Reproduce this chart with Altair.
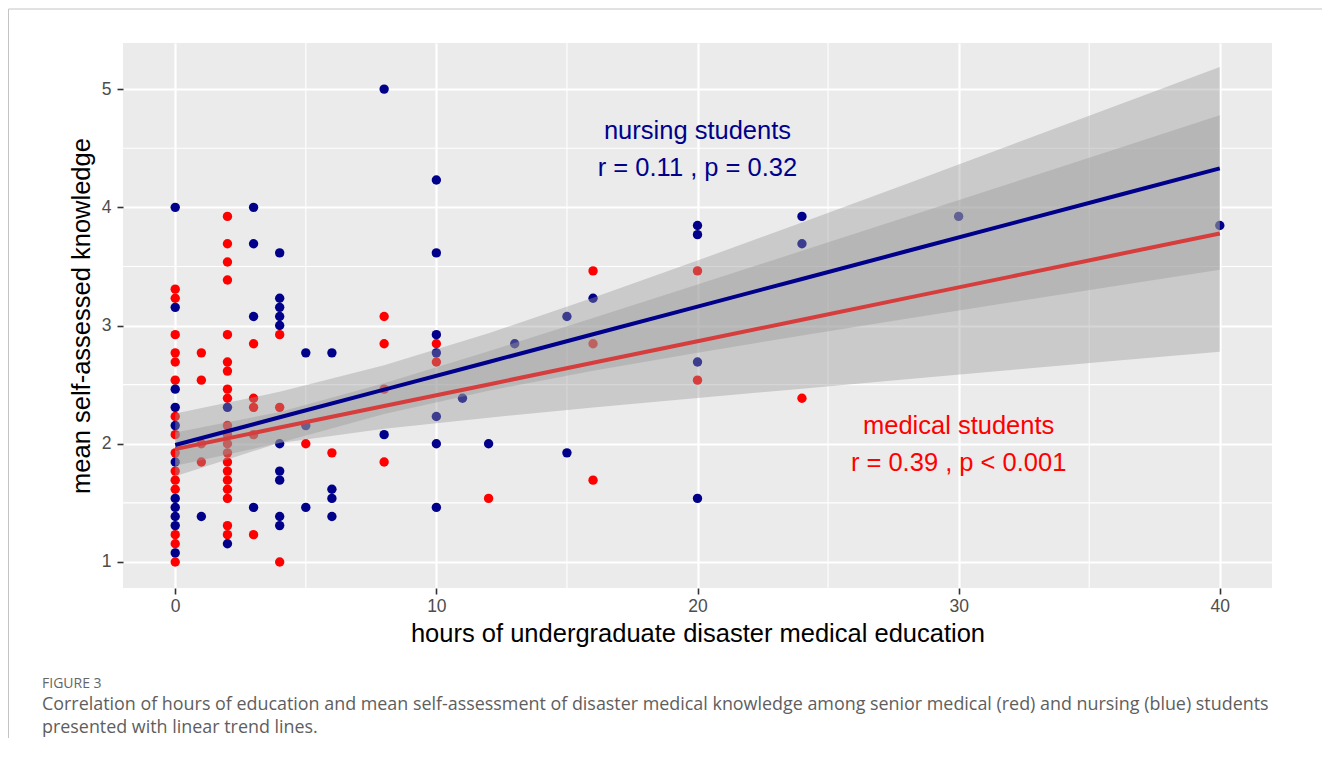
import altair as alt
import pandas as pd

# ---- data ----
med_hours = [0, 0, 0, 0, 0, 0, 0, 0, 0, 0, 0, 0, 0, 0, 0,
             1, 1, 1, 1,
             2, 2, 2, 2, 2, 2, 2, 2, 2, 2, 2, 2, 2, 2, 2, 2, 2, 2, 2, 2,
             3, 3, 3, 3, 3,
             4, 4, 4,
             5, 6,
             8, 8, 8, 8,
             10, 10, 12,
             16, 16, 16,
             20, 20, 24]
med_score = [1.0, 1.154, 1.231, 1.615, 1.692, 1.769, 1.923, 2.077, 2.231, 2.538, 2.692, 2.769, 2.923, 3.231, 3.308,
             2.769, 2.538, 2.0, 1.846,
             3.923, 3.692, 3.538, 3.385, 2.923, 2.692, 2.615, 2.462, 2.385, 2.154, 2.077, 2.0, 1.923, 1.846, 1.769, 1.692, 1.615, 1.538, 1.308, 1.231,
             2.846, 2.385, 2.308, 2.077, 1.231,
             2.923, 2.308, 1.0,
             2.0, 1.923,
             3.077, 2.846, 2.462, 1.846,
             2.846, 2.692, 1.538,
             3.462, 2.846, 1.692,
             3.462, 2.538, 2.385]

nur_hours = [0, 0, 0, 0, 0, 0, 0, 0, 0, 0, 0,
             1,
             2, 2,
             3, 3, 3, 3,
             4, 4, 4, 4, 4, 4, 4, 4, 4, 4,
             5, 5, 5,
             6, 6, 6, 6,
             8, 8,
             10, 10, 10, 10, 10, 10, 10,
             11, 12, 13,
             15, 15, 16,
             20, 20, 20, 20,
             24, 24, 30, 40]
nur_score = [4.0, 3.154, 2.462, 2.308, 2.154, 1.846, 1.538, 1.462, 1.385, 1.308, 1.077,
             1.385,
             2.308, 1.154,
             4.0, 3.692, 3.077, 1.462,
             3.615, 3.231, 3.154, 3.077, 3.0, 2.0, 1.769, 1.692, 1.385, 1.308,
             2.769, 2.154, 1.462,
             2.769, 1.615, 1.538, 1.385,
             5.0, 2.077,
             4.231, 3.615, 2.923, 2.769, 2.231, 2.0, 1.462,
             2.385, 2.0, 2.846,
             3.077, 1.923, 3.231,
             3.846, 3.769, 2.692, 1.538,
             3.923, 3.692, 3.923, 3.846]

# linear trend lines with 95% confidence bands
fit_x = [0, 4, 8, 12, 16, 20, 24, 28, 32, 36, 40]
nur_fit = [1.990, 2.224, 2.458, 2.692, 2.926, 3.160, 3.394, 3.628, 3.862, 4.096, 4.330]
nur_lo = [1.725, 2.009, 2.251, 2.449, 2.617, 2.770, 2.916, 3.058, 3.197, 3.335, 3.472]
nur_hi = [2.255, 2.439, 2.665, 2.935, 3.235, 3.550, 3.872, 4.198, 4.527, 4.857, 5.188]
med_fit = [1.955, 2.137, 2.320, 2.502, 2.685, 2.867, 3.049, 3.232, 3.414, 3.597, 3.779]
med_lo = [1.815, 2.006, 2.128, 2.221, 2.306, 2.387, 2.466, 2.546, 2.624, 2.702, 2.779]
med_hi = [2.095, 2.268, 2.512, 2.783, 3.064, 3.347, 3.632, 3.918, 4.204, 4.492, 4.779]

x_ticks = [0, 10, 20, 30, 40]
y_ticks = [1, 2, 3, 4, 5]
x_minor = [5, 15, 25, 35]
y_minor = [1.5, 2.5, 3.5, 4.5]

ann_text = ["nursing students", "r = 0.11 , p = 0.32", "medical students", "r = 0.39 , p < 0.001"]
ann_x = [20, 20, 30, 30]
ann_y = [4.645, 4.332, 2.150, 1.837]
ann_group = ["nursing", "nursing", "medical", "medical"]

caption_label = "FIGURE 3"
caption_lines = [
    "Correlation of hours of education and mean self-assessment of disaster medical knowledge among senior medical (red) and nursing (blue) students",
    "presented with linear trend lines.",
]

RED = "#FF0000"
BLUE = "#00008B"
FONT = "Liberation Sans"

xs = alt.Scale(domain=[-2, 42], nice=False, zero=False)
ys = alt.Scale(domain=[0.78, 5.39], nice=False, zero=False)

med_df = pd.DataFrame({"hours": med_hours, "score": med_score})
nur_df = pd.DataFrame({"hours": nur_hours, "score": nur_score})
nfit = pd.DataFrame({"hours": fit_x, "fit": nur_fit, "lo": nur_lo, "hi": nur_hi})
mfit = pd.DataFrame({"hours": fit_x, "fit": med_fit, "lo": med_lo, "hi": med_hi})
ann_df = pd.DataFrame({"t": ann_text, "x": ann_x, "y": ann_y, "g": ann_group})

X = alt.X("hours:Q", scale=xs,
          axis=alt.Axis(values=x_ticks, format="d", title="hours of undergraduate disaster medical education"))
Y = alt.Y("score:Q", scale=ys,
          axis=alt.Axis(values=y_ticks, format="d", title="mean self-assessed knowledge"))

minor_v = alt.Chart(pd.DataFrame({"v": x_minor})).mark_rule(color="white", strokeWidth=1.1).encode(
    x=alt.X("v:Q", scale=xs))
minor_h = alt.Chart(pd.DataFrame({"v": y_minor})).mark_rule(color="white", strokeWidth=1.1).encode(
    y=alt.Y("v:Q", scale=ys))

pts_med = alt.Chart(med_df).mark_circle(size=88, opacity=1, color=RED).encode(x=X, y=Y)
pts_nur = alt.Chart(nur_df).mark_circle(size=88, opacity=1, color=BLUE).encode(x=X, y=Y)

band_med = alt.Chart(mfit).mark_area(color="#999999", opacity=0.4).encode(
    x=alt.X("hours:Q", scale=xs), y=alt.Y("lo:Q", scale=ys), y2="hi:Q")
line_med = alt.Chart(mfit).mark_line(color=RED, strokeWidth=4).encode(
    x=alt.X("hours:Q", scale=xs), y=alt.Y("fit:Q", scale=ys))
band_nur = alt.Chart(nfit).mark_area(color="#999999", opacity=0.4).encode(
    x=alt.X("hours:Q", scale=xs), y=alt.Y("lo:Q", scale=ys), y2="hi:Q")
line_nur = alt.Chart(nfit).mark_line(color=BLUE, strokeWidth=4).encode(
    x=alt.X("hours:Q", scale=xs), y=alt.Y("fit:Q", scale=ys))

ann = alt.Chart(ann_df).mark_text(font=FONT, fontSize=25.5, align="center", baseline="middle").encode(
    x=alt.X("x:Q", scale=xs), y=alt.Y("y:Q", scale=ys), text="t:N",
    color=alt.Color("g:N", scale=alt.Scale(domain=["nursing", "medical"], range=[BLUE, RED]), legend=None))

one = pd.DataFrame({"a": [0]})
frame_col = "#C4C4C4"
frame_l = alt.Chart(one).mark_rule(color=frame_col, strokeWidth=1).encode(
    x=alt.value(-114.5), y=alt.value(-34), y2=alt.value(700))
frame_r = alt.Chart(one).mark_rule(color=frame_col, strokeWidth=1).encode(
    x=alt.value(1205.5), y=alt.value(-34), y2=alt.value(700))
frame_t = alt.Chart(one).mark_rule(color=frame_col, strokeWidth=1).encode(
    x=alt.value(-114.5), x2=alt.value(1205.5), y=alt.value(-34))

cap0 = alt.Chart(one).mark_text(font="Open Sans", fontSize=14, color="#666666", align="left",
                                baseline="middle").encode(
    x=alt.value(-81), y=alt.value(641), text=alt.value(caption_label))
cap1 = alt.Chart(one).mark_text(font="Open Sans", fontSize=17.9, color="#5E5E5E", align="left",
                                baseline="middle").encode(
    x=alt.value(-81), y=alt.value(661.5), text=alt.value(caption_lines[0]))
cap2 = alt.Chart(one).mark_text(font="Open Sans", fontSize=17.9, color="#5E5E5E", align="left",
                                baseline="middle").encode(
    x=alt.value(-81), y=alt.value(684.5), text=alt.value(caption_lines[1]))

chart = alt.layer(
    minor_v, minor_h, pts_med, pts_nur, band_med, line_med, band_nur, line_nur, ann,
    frame_l, frame_r, frame_t, cap0, cap1, cap2
).properties(
    width=1149, height=545,
    autosize=alt.AutoSizeParams(type="none"),
    padding={"left": 115, "top": 35, "right": 50, "bottom": 150},
    background="white",
).configure_view(
    fill="#EBEBEB", strokeWidth=0
).configure_axis(
    domain=False, grid=True, gridColor="white", gridWidth=2.2, gridOpacity=1,
    ticks=True, tickColor="#333333", tickSize=6, tickWidth=1.6,
    labelFont=FONT, labelFontSize=17.5, labelColor="#4D4D4D", labelPadding=3,
    titleFont=FONT, titleFontSize=25.5, titleFontWeight="normal", titleColor="black",
).configure_axisX(titlePadding=7).configure_axisY(titlePadding=7, labelPadding=6)

chart.save("out.html", embed_options={"renderer": "svg", "actions": False})
